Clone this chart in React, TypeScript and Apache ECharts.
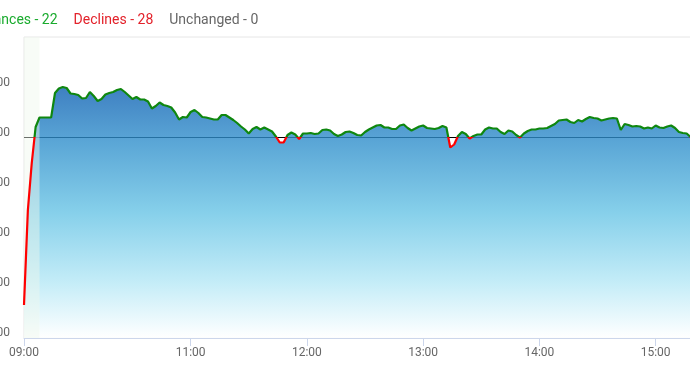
import React, { useEffect, useRef } from 'react';
import * as echarts from 'echarts';

// Category labels (ordinal time axis: pre-open, sparse early session, then 2-minute samples)
const preOpenTimes = ['09:00', '09:02', '09:04', '09:06', '09:08'];
const earlyTimes = ['09:16', '09:22', '09:28', '09:34', '09:40', '09:46', '09:52', '09:58'];
function twoMinuteTimes(startH: number, endH: number, endM: number): string[] {
  const out: string[] = [];
  for (let t = startH * 60; t <= endH * 60 + endM; t += 2) {
    const h = Math.floor(t / 60);
    const m = t % 60;
    out.push(`${String(h).padStart(2, '0')}:${String(m).padStart(2, '0')}`);
  }
  return out;
}
const times: string[] = [...preOpenTimes, ...earlyTimes, ...twoMinuteTimes(10, 15, 20)];

const indexValues: number[] = [
  17354, 17544, 17638, 17710, 17729, 17729, 17729, 17729, 17778, 17787,
  17790, 17788, 17777, 17776, 17774, 17767, 17768, 17780, 17772, 17762,
  17766, 17775, 17778, 17780, 17784, 17786, 17780, 17773, 17766, 17770,
  17765, 17765, 17761, 17747, 17752, 17759, 17754, 17752, 17749, 17739,
  17725, 17730, 17729, 17740, 17744, 17738, 17730, 17729, 17727, 17725,
  17725, 17734, 17734, 17729, 17724, 17718, 17711, 17705, 17697, 17706,
  17710, 17705, 17709, 17705, 17701, 17691, 17679, 17679, 17694, 17699,
  17695, 17686, 17697, 17697, 17698, 17696, 17697, 17704, 17705, 17703,
  17696, 17692, 17695, 17700, 17701, 17698, 17694, 17693, 17700, 17705,
  17709, 17713, 17714, 17709, 17709, 17706, 17706, 17713, 17715, 17708,
  17703, 17707, 17711, 17713, 17708, 17707, 17706, 17708, 17712, 17709,
  17669, 17675, 17692, 17700, 17696, 17687, 17692, 17695, 17695, 17705,
  17709, 17707, 17707, 17700, 17696, 17703, 17701, 17694, 17689, 17697,
  17702, 17705, 17705, 17707, 17707, 17708, 17712, 17716, 17723, 17724,
  17725, 17720, 17718, 17724, 17721, 17726, 17730, 17728, 17727, 17723,
  17725, 17727, 17728, 17727, 17704, 17716, 17714, 17711, 17712, 17711,
  17707, 17709, 17707, 17713, 17709, 17708, 17711, 17713, 17708, 17700,
  17698, 17697, 17690, 17689,
];

const previousClose = 17690;
const xTickLabels = ['09:00', '11:00', '12:00', '13:00', '14:00', '15:00'];
const yTickValues = [17300, 17400, 17500, 17600, 17700, 17800];
const yMin = 17288;
const yMax = 17890;
const preOpenRange = ['09:00', '09:08'];

const breadthLabels = ['Advances', 'Declines', 'Unchanged'];
const breadthCounts = [22, 28, 0];
const breadthColors = ['#1aab2e', '#e3222b', '#666666'];

export default function App() {
  const ref = useRef<HTMLDivElement>(null);

  useEffect(() => {
    document.body.style.margin = '0';
    document.body.style.overflow = 'hidden';
    if (!ref.current) return;
    const chart = echarts.init(ref.current, undefined, { renderer: 'svg' });

    const showTick = (_i: number, v: string) => xTickLabels.includes(v);
    const keys = ['a', 'd', 'u'];
    const titleText = breadthLabels
      .map((l, i) => `{${keys[i]}|${l} - ${breadthCounts[i]}}`)
      .join('{g|}');
    const rich: any = { g: { width: 16 } };
    keys.forEach((k, i) => {
      rich[k] = {
        color: breadthColors[i],
        fontSize: 14,
        fontFamily: 'Roboto',
        fontWeight: 'normal',
      };
    });

    chart.setOption({
      animation: false,
      textStyle: { fontFamily: 'Roboto' },
      title: {
        left: -30,
        top: 12,
        padding: 0,
        text: titleText,
        textStyle: { rich, fontWeight: 'normal', fontSize: 14 },
      },
      grid: {
        left: 24,
        top: 37,
        width: 670.4,
        bottom: 30,
        show: true,
        borderColor: '#e6e6e6',
        borderWidth: 1,
        containLabel: false,
        outerBoundsMode: 'none',
      },
      xAxis: {
        type: 'category',
        data: times,
        boundaryGap: false,
        axisLine: { lineStyle: { color: '#ccd6eb' } },
        axisTick: { interval: showTick, length: 8, lineStyle: { color: '#ccd6eb' } },
        axisLabel: { interval: showTick, color: '#666', fontSize: 12, margin: 8 },
        splitLine: { show: false },
      },
      yAxis: {
        type: 'value',
        min: yMin,
        max: yMax,
        splitLine: { show: false },
        axisLine: { show: false },
        axisTick: { show: false, customValues: yTickValues },
        axisLabel: {
          customValues: yTickValues,
          formatter: (v: number) => v.toLocaleString('en-US'),
          color: '#666',
          fontSize: 12,
          margin: 14,
        },
      },
      visualMap: {
        type: 'piecewise',
        show: false,
        seriesIndex: 1,
        dimension: 1,
        pieces: [
          { gt: previousClose, lte: yMax + 500, color: '#0f870f' },
          { gte: yMin - 500, lte: previousClose, color: '#ff0000' },
        ],
        outOfRange: { color: '#0f870f' },
      },
      series: [
        {
          type: 'line',
          data: indexValues,
          z: 2,
          symbol: 'none',
          silent: true,
          lineStyle: { width: 0, opacity: 0 },
          areaStyle: {
            opacity: 1,
            color: new echarts.graphic.LinearGradient(0, 0, 0, 1, [
              { offset: 0, color: 'rgba(14,96,178,0.8)' },
              { offset: 0.22, color: 'rgba(49,144,204,0.8)' },
              { offset: 0.5, color: 'rgba(104,196,229,0.8)' },
              { offset: 0.78, color: 'rgba(182,232,246,0.8)' },
              { offset: 1, color: 'rgba(255,255,255,0.8)' },
            ]),
          },
          markLine: {
            z: 1,
            silent: true,
            symbol: 'none',
            label: { show: false },
            lineStyle: { color: '#000', width: 1, type: 'solid' },
            data: [{ yAxis: previousClose }],
          },
          markArea: {
            z: 3,
            silent: true,
            itemStyle: { color: 'rgba(240,248,238,0.45)' },
            data: [[{ xAxis: preOpenRange[0] }, { xAxis: preOpenRange[1] }]],
          },
        },
        {
          type: 'line',
          data: indexValues,
          z: 4,
          symbol: 'none',
          showSymbol: false,
          lineStyle: { width: 2.2 },
        },
      ],
    });
    return () => chart.dispose();
  }, []);

  return (
    <div
      ref={ref}
      style={{ position: 'fixed', left: 0, top: 0, width: 700, height: 368 }}
    />
  );
}
